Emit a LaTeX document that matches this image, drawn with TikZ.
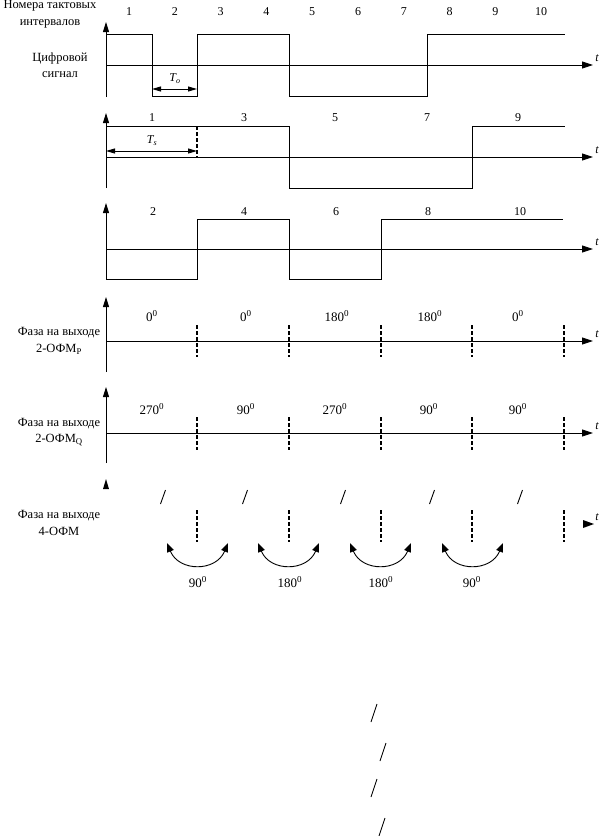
\documentclass[tikz,border=0pt]{standalone}
\usepackage{fontspec}
\setmainfont{Liberation Serif}
\usetikzlibrary{arrows.meta}
\tikzset{
  ln/.style={line width=0.9pt},
  axisarrow/.style={ln,-{Triangle[length=10pt,width=6pt]}},
  harrow/.style={ln,-{Triangle[length=11pt,width=7pt]}},
  dimarrow/.style={ln,{Triangle[length=9pt,width=5pt]}-{Triangle[length=9pt,width=5pt]}},
  arcarrow/.style={ln,{Triangle[length=9pt,width=7pt]}-{Triangle[length=9pt,width=7pt]}},
  dashbar/.style={line width=1.6pt,dash pattern=on 4pt off 2pt},
  lbl/.style={font=\fontsize{12.5}{16.5}\selectfont,align=center,inner sep=0pt},
  num/.style={font=\fontsize{12}{14}\selectfont,inner sep=0pt},
  deg/.style={font=\fontsize{13}{15}\selectfont,inner sep=0pt},
  tlab/.style={font=\fontsize{12}{14}\selectfont\itshape,inner sep=0pt},
  slash/.style={line width=0.9pt}
}
\begin{document}
\begin{tikzpicture}[x=1pt,y=-1pt]
\useasboundingbox (0,0) rectangle (599,836);
% ---------- left labels
\node[lbl] (hdr) at (50,14) {Номера тактовых\\интервалов};
\node[lbl] (dig) at (60,65) {Цифровой\\сигнал};
\node[lbl] (lp) at (59,341) {Фаза на выходе\\2-ОФМ\textsubscript{P}};
\node[lbl] (lq) at (59,432) {Фаза на выходе\\2-ОФМ\textsubscript{Q}};
\node[lbl] (l4) at (59,523) {Фаза на выходе\\4-ОФМ};
% ---------- panel 1
\coordinate (p1b) at (106,97); \coordinate (p1t) at (106,22);
\coordinate (h1a) at (106,65); \coordinate (h1b) at (593,65);
\draw[axisarrow] (p1b) -- (p1t);
\draw[harrow] (h1a) -- (h1b);
\node[tlab] (t1) at (597,58) {t};
\draw[ln] (106,34) -- (152,34) -- (152,96) -- (197,96) -- (197,34) -- (289,34) -- (289,96) -- (427,96) -- (427,34) -- (565,34);
\coordinate (to1) at (152,89); \coordinate (to2) at (197,89);
\draw[dimarrow] (to1) -- (to2);
\node[tlab] (To) at (175,79) {T\textsubscript{o}};
\foreach \i in {1,...,10} {
  \node[num] (n\i) at ({129+45.8*(\i-1)},12) {\i};
}
% ---------- panel 2
\coordinate (p2b) at (106,188); \coordinate (p2t) at (106,113);
\coordinate (h2a) at (106,157); \coordinate (h2b) at (593,157);
\draw[axisarrow] (p2b) -- (p2t);
\draw[harrow] (h2a) -- (h2b);
\node[tlab] (t2) at (597,150) {t};
\draw[ln] (106,126) -- (289,126) -- (289,188) -- (472,188) -- (472,126) -- (565,126);
\coordinate (d2a) at (197,126); \coordinate (d2b) at (197,157);
\draw[dashbar] (d2a) -- (d2b);
\coordinate (ts1) at (106,151); \coordinate (ts2) at (197,151);
\draw[dimarrow] (ts1) -- (ts2);
\node[tlab] (Ts) at (152,141) {T\textsubscript{s}};
\node[num] (m1) at (152,118) {1};
\node[num] (m3) at (244,118) {3};
\node[num] (m5) at (335,118) {5};
\node[num] (m7) at (427,118) {7};
\node[num] (m9) at (518,118) {9};
% ---------- panel 3
\coordinate (p3b) at (106,279); \coordinate (p3t) at (106,203);
\coordinate (h3a) at (106,249); \coordinate (h3b) at (593,249);
\draw[axisarrow] (p3b) -- (p3t);
\draw[harrow] (h3a) -- (h3b);
\node[tlab] (t3) at (597,242) {t};
\draw[ln] (106,279) -- (197,279) -- (197,219) -- (289,219) -- (289,279) -- (381,279) -- (381,219) -- (563,219);
\node[num] (k2) at (153,212) {2};
\node[num] (k4) at (244,212) {4};
\node[num] (k6) at (336,212) {6};
\node[num] (k8) at (428,212) {8};
\node[num] (k10) at (520,212) {10};
% ---------- panel 4
\coordinate (p4b) at (106,372); \coordinate (p4t) at (106,297);
\coordinate (h4a) at (106,341); \coordinate (h4b) at (593,341);
\draw[axisarrow] (p4b) -- (p4t);
\draw[harrow] (h4a) -- (h4b);
\node[tlab] (t4) at (597,334) {t};
\foreach \x [count=\j] in {197,289,381,472,564} {
  \coordinate (pa\j) at (\x,325); \coordinate (pb\j) at (\x,357);
  \draw[dashbar] (pa\j) -- (pb\j);
}
\node[deg] (f1) at (152,316) {0\textsuperscript{0}};
\node[deg] (f2) at (246,316) {0\textsuperscript{0}};
\node[deg] (f3) at (337,316) {180\textsuperscript{0}};
\node[deg] (f4) at (430,316) {180\textsuperscript{0}};
\node[deg] (f5) at (518,316) {0\textsuperscript{0}};
% ---------- panel 5
\coordinate (p5b) at (106,463); \coordinate (p5t) at (106,387);
\coordinate (h5a) at (106,433); \coordinate (h5b) at (593,433);
\draw[axisarrow] (p5b) -- (p5t);
\draw[harrow] (h5a) -- (h5b);
\node[tlab] (t5) at (597,426) {t};
\foreach \x [count=\j] in {197,289,381,472,564} {
  \coordinate (qa\j) at (\x,417); \coordinate (qb\j) at (\x,450);
  \draw[dashbar] (qa\j) -- (qb\j);
}
\node[deg] (g1) at (152,409) {270\textsuperscript{0}};
\node[deg] (g2) at (246,409) {90\textsuperscript{0}};
\node[deg] (g3) at (335,409) {270\textsuperscript{0}};
\node[deg] (g4) at (429,409) {90\textsuperscript{0}};
\node[deg] (g5) at (518,409) {90\textsuperscript{0}};
% ---------- panel 6
\fill (103,489) -- (106,479) -- (109,489) -- cycle;
\fill (583,520) -- (594,524) -- (583,528) -- cycle;
\node[tlab] (t6) at (597,517) {t};
\foreach \x [count=\j] in {197,289,381,472,564} {
  \coordinate (ra\j) at (\x,510); \coordinate (rb\j) at (\x,542);
  \draw[dashbar] (ra\j) -- (rb\j);
}
\foreach \x [count=\j] in {163,245,343,432,520} {
  \coordinate (sa\j) at ({\x-2.5},504); \coordinate (sb\j) at ({\x+2.5},490);
  \draw[slash] (sa\j) -- (sb\j);
}
\foreach \x [count=\j] in {197,288,380,472} {
  \coordinate (ca\j) at ({\x-30},543); \coordinate (cb\j) at ({\x+31},543);
  \draw[arcarrow] (ca\j) .. controls ({\x-18},572) and ({\x+19},572) .. (cb\j);
}
\node[deg] (e1) at (198,582) {90\textsuperscript{0}};
\node[deg] (e2) at (290,582) {180\textsuperscript{0}};
\node[deg] (e3) at (381,582) {180\textsuperscript{0}};
\node[deg] (e4) at (472,582) {90\textsuperscript{0}};
% ---------- bottom slashes
\foreach \x/\y [count=\j] in {374/713,383/752,374/788,382/827} {
  \coordinate (za\j) at ({\x-3},{\y+9}); \coordinate (zb\j) at ({\x+3},{\y-9});
  \draw[slash] (za\j) -- (zb\j);
}
\end{tikzpicture}
\end{document}
